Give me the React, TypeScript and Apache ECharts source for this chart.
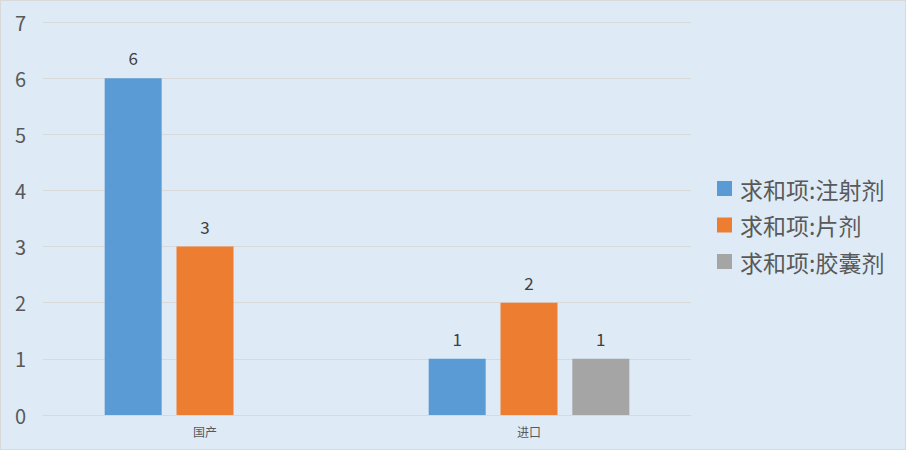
import React, { useEffect, useRef } from "react";
import * as echarts from "echarts";

const categories = ["国产", "进口"];
const seriesNames = ["求和项:注射剂", "求和项:片剂", "求和项:胶囊剂"];
const injection = [6, 1];
const tablet = [3, 2];
const capsule: (number | null)[] = [null, 1];
const colors = ["#5B9BD5", "#ED7D31", "#A5A5A5"];

const FONT = "'Noto Sans CJK SC', 'Noto Sans', sans-serif";

export default function App() {
  const ref = useRef<HTMLDivElement>(null);
  useEffect(() => {
    if (!ref.current) return;
    const chart = echarts.init(ref.current, undefined, { renderer: "svg" });
    const values = [injection, tablet, capsule];
    chart.setOption({
      animation: false,
      backgroundColor: "#DEEBF7",
      textStyle: { fontFamily: FONT },
      grid: { left: 42, right: 214, top: 21, bottom: 34 },
      legend: {
        orient: "vertical",
        left: 716,
        top: 176,
        padding: 0,
        itemWidth: 15,
        itemHeight: 15,
        itemGap: 13.5,
        icon: "rect",
        textStyle: { fontSize: 23, color: "#595959", fontFamily: FONT, lineHeight: 23, padding: [0, 0, 0, 3] },
        data: seriesNames,
      },
      xAxis: {
        type: "category",
        data: categories,
        axisLine: { lineStyle: { color: "#D9D9D9" } },
        axisTick: { show: false },
        axisLabel: { fontSize: 12, color: "#595959", margin: 10, fontFamily: FONT },
      },
      yAxis: {
        type: "value",
        min: 0,
        max: 7,
        interval: 1,
        axisLine: { show: false },
        axisTick: { show: false },
        splitLine: { lineStyle: { color: "#D9D9D9" } },
        axisLabel: { fontSize: 20, color: "#595959", margin: 17, fontFamily: FONT },
      },
      series: seriesNames.map((name, i) => ({
        name,
        type: "bar",
        data: values[i],
        barWidth: 57,
        barGap: "26%",
        itemStyle: { color: colors[i] },
        label: {
          show: true,
          position: "top",
          distance: 12,
          fontSize: 17,
          color: "#404040",
          fontFamily: FONT,
        },
      })),
    });
    return () => chart.dispose();
  }, []);
  return (
    <div
      ref={ref}
      style={{
        position: "fixed",
        left: 0,
        top: 0,
        width: 906,
        height: 450,
        boxSizing: "border-box",
        border: "1px solid #D9D9D9",
      }}
    />
  );
}
